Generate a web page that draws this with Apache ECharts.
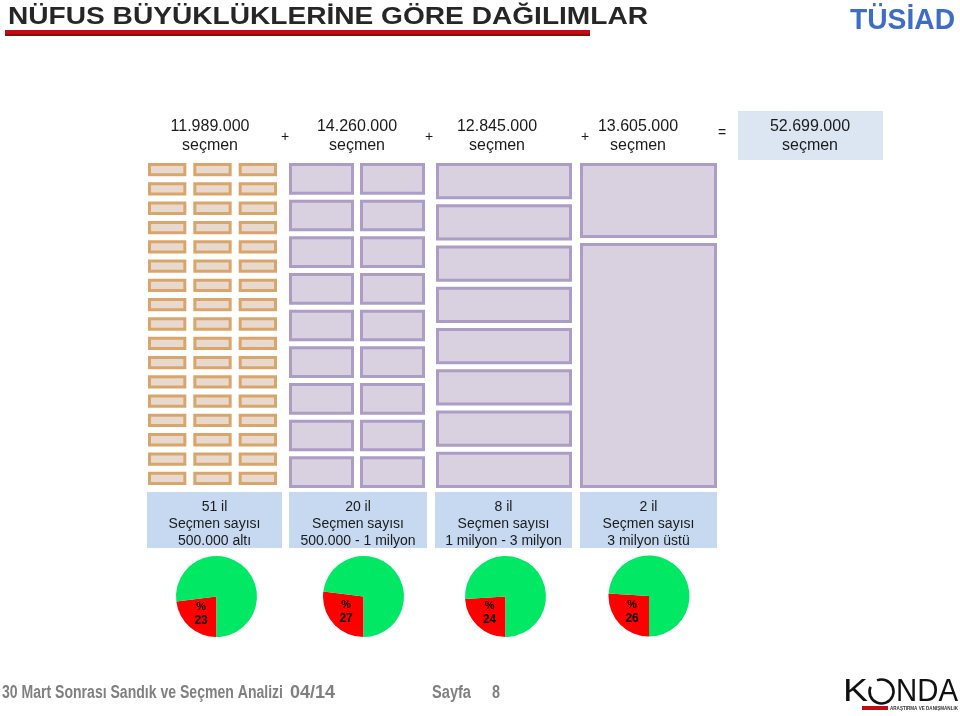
<!DOCTYPE html>
<html><head><meta charset="utf-8">
<script src="https://cdn.jsdelivr.net/npm/echarts@6/dist/echarts.min.js"></script>
<style>html,body{margin:0;padding:0;background:#fff}#c{width:960px;height:716px}</style>
</head><body><div id="c"></div><script>
// ---------------- data ----------------
const voterCounts = [11989000, 14260000, 12845000, 13605000];
const provinceCounts = [51, 20, 8, 2];
const rangeLabels = ['500.000 altı', '500.000 - 1 milyon', '1 milyon - 3 milyon', '3 milyon üstü'];
const redShares = [23, 27, 24, 26];
const blockCols = [3, 2, 1, 1];
const blockRows = [17, 9, 8, 2];
const bigCityVoters = [3300000, 10300000]; // sizes of the two blocks of the last group (estimated)
const operators = ['+', '+', '+', '='];
const titleText = 'NÜFUS BÜYÜKLÜKLERİNE GÖRE DAĞILIMLAR';
const unitText = 'seçmen';
const footerLeft = '30 Mart Sonrası Sandık ve Seçmen Analizi';
const footerIssue = '04/14';
const footerPage = ['Sayfa', '8'];

// ---------------- layout / style ----------------
const FONT = '"Liberation Sans", Arial, sans-serif';
const frames = [
  {left:148, top:163, w:129, h:322, gx:7, gy:6, fill:'#e8d9ce', stroke:'#d9a56b'},
  {left:289, top:163, w:136, h:325, gx:6, gy:5, fill:'#d9d1df', stroke:'#ab9dc6'},
  {left:436, top:163, w:136, h:325, gx:6, gy:5, fill:'#d9d1df', stroke:'#ab9dc6'},
  {left:580, top:163, w:137, h:325, gx:6, gy:5, fill:'#d9d1df', stroke:'#ab9dc6'}
];
const topCenters = [210, 357, 497, 638];
const opX = [285, 429, 585, 722];
const opY = [137, 137, 137, 133];
const boxes = [[147,135],[289,138],[435,137],[580,137]];
const pieCenters = [[216.5,596.5],[363.5,596.5],[505.5,596.5],[649,596]];

const fmt = n => String(n).replace(/\B(?=(\d{3})+(?!\d))/g, '.');
const totalVoters = voterCounts.reduce((a,b)=>a+b,0);

const mctx = document.createElement('canvas').getContext('2d');
function measure(t, font){ mctx.font = font; return mctx.measureText(t).width; }

function txt(text, x, y, size, opts){
  opts = opts || {};
  const weight = opts.weight || 'normal';
  const font = weight + ' ' + size + 'px ' + (opts.family || FONT);
  const el = {
    type:'text', x:x, y:y, z: 10, silent:true,
    style:{text:text, font:font, fill:opts.color || '#1a1a1a',
      textAlign: opts.align || 'center', textVerticalAlign:'middle',
      align: opts.align || 'center', verticalAlign:'middle'}
  };
  if (opts.width) { el.scaleX = opts.width / measure(text, font); }
  return el;
}

// ---------------- grids + block series ----------------
const grids = [], xAxes = [], yAxes = [], series = [];
frames.forEach((f, g) => {
  grids.push({left:f.left, top:f.top, width:f.w + f.gx, height:f.h + f.gy});
  let data = [], ymax;
  if (g < 3) {
    for (let r = 0; r < blockRows[g]; r++)
      for (let c = 0; c < blockCols[g]; c++) data.push([c, r, c+1, r+1]);
    ymax = blockRows[g];
  } else {
    let acc = 0;
    bigCityVoters.forEach(v => { data.push([0, acc, 1, acc + v]); acc += v; });
    ymax = acc;
  }
  xAxes.push({type:'value', gridIndex:g, min:0, max:blockCols[g], show:false});
  yAxes.push({type:'value', gridIndex:g, min:0, max:ymax, inverse:true, show:false});
  series.push({
    type:'custom', xAxisIndex:g, yAxisIndex:g, data:data, silent:true, clip:false,
    renderItem:(params, api) => {
      const p0 = api.coord([api.value(0), api.value(1)]);
      const p1 = api.coord([api.value(2), api.value(3)]);
      const lw = 3;
      return {type:'rect',
        shape:{x:p0[0]+lw/2, y:p0[1]+lw/2, width:p1[0]-p0[0]-f.gx-lw, height:p1[1]-p0[1]-f.gy-lw},
        style:{fill:f.fill, stroke:f.stroke, lineWidth:lw}};
    }
  });
});

// ---------------- pies ----------------
redShares.forEach((s, i) => {
  series.push({
    type:'pie', center:pieCenters[i], radius:40.5, startAngle:270, clockwise:true,
    silent:true, animation:false,
    label:{show:false}, labelLine:{show:false},
    data:[
      {value:s, name:'a'+i, itemStyle:{color:'#ff0000'},
       label:{show:true, position:'inside', color:'#000', textBorderWidth:0,
         formatter:'{p|%}\n{v|' + s + '}',
         rich:{p:{fontSize:11, fontWeight:'bold', color:'#000', lineHeight:13, fontFamily:FONT},
               v:{fontSize:12, fontWeight:'bold', color:'#000', lineHeight:14, fontFamily:FONT}}}},
      {value:100 - s, name:'b'+i, itemStyle:{color:'#00e864'}}
    ]
  });
});

// ---------------- graphic (texts, boxes) ----------------
const gfx = [];
// title
gfx.push(txt(titleText, 8, 17, 24, {weight:'bold', color:'#262626', align:'left', width:640}));
gfx.push({type:'rect', shape:{x:5, y:30, width:585, height:5}, style:{fill:'#c00d14'}, silent:true});
gfx.push({type:'rect', shape:{x:5, y:34, width:585, height:2}, style:{fill:'#8a0a0e'}, silent:true});
// TÜSİAD
gfx.push(txt('TÜSİAD', 850, 21, 30, {weight:'bold', color:'#3e6cc6', align:'left', width:105}));

// top numbers
voterCounts.forEach((v, i) => {
  gfx.push(txt(fmt(v), topCenters[i], 127, 16));
  gfx.push(txt(unitText, topCenters[i], 146, 16));
});
operators.forEach((o, i) => gfx.push(txt(o, opX[i], opY[i], 14)));
gfx.push({type:'rect', shape:{x:738, y:111, width:145, height:49}, style:{fill:'#dce6f2'}, silent:true});
gfx.push(txt(fmt(totalVoters), 810, 127, 16));
gfx.push(txt(unitText, 810, 146, 16));

// bottom label boxes
boxes.forEach((b, i) => {
  gfx.push({type:'rect', shape:{x:b[0], y:492, width:b[1], height:56}, style:{fill:'#c6d9f0'}, silent:true});
  const cx = b[0] + b[1]/2;
  gfx.push(txt(provinceCounts[i] + ' il', cx, 507, 14));
  gfx.push(txt('Seçmen sayısı', cx, 524, 14));
  gfx.push(txt(rangeLabels[i], cx, 541, 14));
});

// footer
gfx.push(txt(footerLeft, 2, 693, 18, {weight:'bold', color:'#808080', align:'left', width:281}));
gfx.push(txt(footerIssue, 290, 693, 18, {weight:'bold', color:'#808080', align:'left', width:45}));
gfx.push(txt(footerPage[0], 432, 693, 18, {weight:'bold', color:'#808080', align:'left', width:39}));
gfx.push(txt(footerPage[1], 492, 693, 18, {weight:'bold', color:'#808080', align:'left', width:8}));

// KONDA logo
gfx.push(txt('K', 843, 692, 32, {color:'#111', align:'left', width:25}));
gfx.push({type:'arc', shape:{cx:881.5, cy:691.5, r:12, startAngle:-1.95, endAngle:3.55, clockwise:true},
  style:{stroke:'#111', lineWidth:2.6, fill:null}, silent:true});
gfx.push(txt('NDA', 896, 692, 32, {color:'#111', align:'left', width:62}));
gfx.push({type:'rect', shape:{x:862, y:706, width:26, height:4}, style:{fill:'#c00d14'}, silent:true});
gfx.push(txt('ARAŞTIRMA VE DANIŞMANLIK', 890, 708.5, 5, {weight:'bold', color:'#333', align:'left', width:68}));

const chart = echarts.init(document.getElementById('c'), null, {renderer:'canvas'});
chart.setOption({
  animation:false,
  backgroundColor:'#ffffff',
  grid:grids, xAxis:xAxes, yAxis:yAxes,
  series:series,
  graphic:{elements:gfx}
});
</script></body></html>
